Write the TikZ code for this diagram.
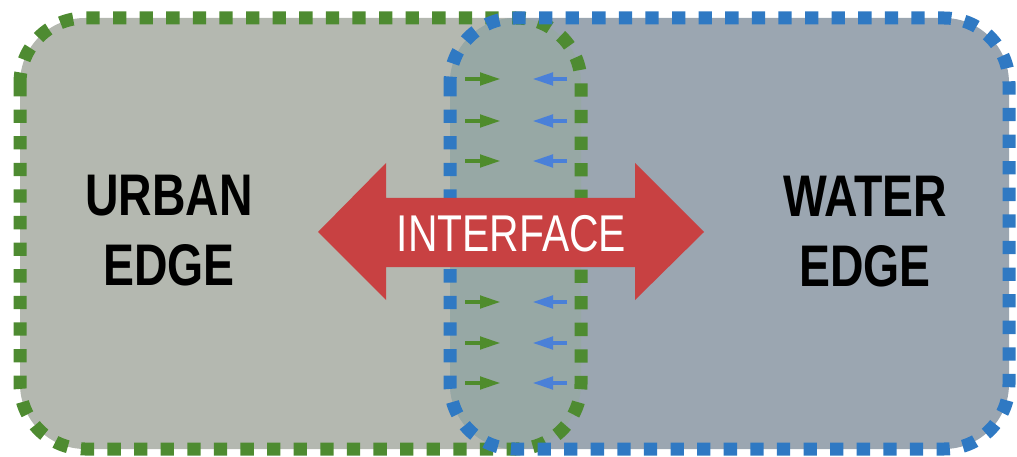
\documentclass[tikz,border=0pt]{standalone}
\usepackage{fontspec}
\setmainfont{Liberation Sans}
\usetikzlibrary{arrows.meta}
\definecolor{urbanfill}{RGB}{180,184,176}
\definecolor{waterfill}{RGB}{155,166,177}
\definecolor{overlapfill}{RGB}{151,168,165}
\definecolor{greendash}{RGB}{78,139,49}
\definecolor{bluedash}{RGB}{47,121,195}
\definecolor{redarrow}{RGB}{200,65,66}
\definecolor{garrowc}{RGB}{79,140,44}
\definecolor{barrowc}{RGB}{74,128,216}
\tikzset{
  edgeborder/.style={line width=13pt, dash pattern=on 13.3pt off 13.3pt, rounded corners=65pt},
  smallarrow/.style={line width=4.5pt, -{Triangle[length=21pt,width=12pt]}},
  biglabel/.style={inner sep=0pt, align=center, font=\fontsize{58.7}{70}\selectfont\bfseries, text=black},
}
\begin{document}
\begin{tikzpicture}[x=1pt,y=-1pt]
\useasboundingbox (0,0) rectangle (1017,457);
% fills
\fill[urbanfill,rounded corners=65pt] (20,18) rectangle (581,449);
\fill[waterfill,rounded corners=65pt] (450,18) rectangle (1009,449);
\begin{scope}
  \clip[rounded corners=65pt] (20,18) rectangle (581,449);
  \fill[overlapfill,rounded corners=65pt] (450,18) rectangle (1009,449);
\end{scope}
% small arrows
\foreach \yy [count=\i] in {79,121,161,302,343,383} {
  \coordinate (gs\i) at (465,\yy);
  \coordinate (ge\i) at (501,\yy);
  \draw[smallarrow, garrowc] (gs\i) -- (ge\i);
  \coordinate (bs\i) at (567,\yy);
  \coordinate (be\i) at (532,\yy);
  \draw[smallarrow, barrowc] (bs\i) -- (be\i);
}
% borders
\draw[edgeborder, greendash] (20,18) rectangle (581,449);
\draw[edgeborder, bluedash] (450,18) rectangle (1009,449);
% red double arrow
\fill[redarrow] (318,232) -- (386,163) -- (386,198) -- (635,198) -- (635,163)
  -- (704,232) -- (635,300) -- (635,267) -- (386,267) -- (386,300) -- cycle;
\node[inner sep=0pt, text=white, font=\fontsize{51.7}{60}\selectfont] (iface) at (511.5,233.5) {\scalebox{0.79}[1]{INTERFACE}};
% labels
\node[biglabel] (urban) at (169,231) {\scalebox{0.79}[1]{URBAN}\\\scalebox{0.79}[1]{EDGE}};
\node[biglabel] (water) at (865,232) {\scalebox{0.79}[1]{WATER}\\\scalebox{0.79}[1]{EDGE}};
\end{tikzpicture}
\end{document}
